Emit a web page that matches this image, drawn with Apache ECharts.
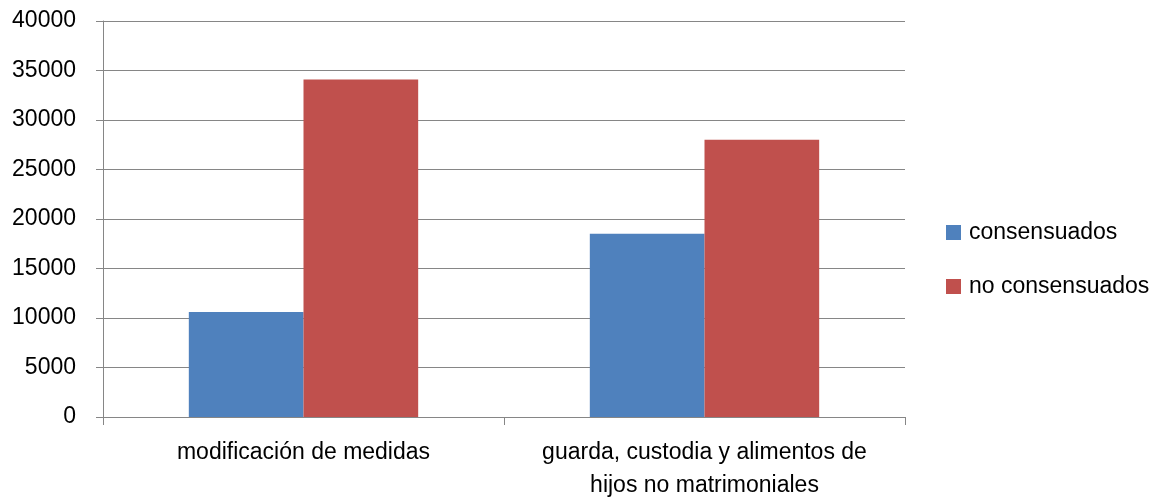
<!DOCTYPE html>
<html><head><meta charset="utf-8">
<script src="https://cdn.jsdelivr.net/npm/echarts@6/dist/echarts.min.js"></script>
<style>html,body{margin:0;padding:0;background:#fff}#c{width:1161px;height:498px}</style>
</head><body><div id="c"></div>
<script>
var categories = ['modificación de medidas', 'guarda, custodia y alimentos de\nhijos no matrimoniales'];
var consensuados = [10600, 18500];
var noConsensuados = [34100, 28000];
var seriesNames = ['consensuados', 'no consensuados'];

var FONT = '"Liberation Sans", Arial, sans-serif';
var chart = echarts.init(document.getElementById('c'), null, {renderer: 'canvas'});
chart.setOption({
  animation: false,
  backgroundColor: '#fff',
  textStyle: {fontFamily: FONT},
  grid: {left: 103, right: 256, top: 21, bottom: 81, containLabel: false, outerBoundsMode: 'none'},
  legend: {
    orient: 'vertical', left: 946, top: 221, padding: 0,
    itemWidth: 15, itemHeight: 15, itemGap: 31,
    icon: 'rect',
    textStyle: {fontFamily: FONT, fontSize: 23, lineHeight: 17, color: '#000', padding: [0,0,0,3]},
    data: seriesNames
  },
  xAxis: {
    type: 'category', data: categories,
    axisLine: {lineStyle: {color: '#868686', width: 1}},
    axisTick: {show: true, length: 8, lineStyle: {color: '#868686'}},
    axisLabel: {fontFamily: FONT, fontSize: 23, color: '#000', margin: 19, lineHeight: 33, interval: 0}
  },
  yAxis: {
    type: 'value', min: 0, max: 40000, interval: 5000,
    axisLine: {show: true, lineStyle: {color: '#868686', width: 1}},
    axisTick: {show: true, length: 7, lineStyle: {color: '#868686'}},
    splitLine: {lineStyle: {color: '#868686', width: 1}},
    axisLabel: {fontFamily: FONT, fontSize: 23, color: '#000', margin: 27, formatter: function (v) { return String(v); }}
  },
  series: [
    {name: seriesNames[0], type: 'bar', data: consensuados, barWidth: '28.6%', barGap: '0%',
     itemStyle: {color: '#4F81BD'}},
    {name: seriesNames[1], type: 'bar', data: noConsensuados, barWidth: '28.6%', barGap: '0%',
     itemStyle: {color: '#C0504D'}}
  ]
});
</script></body></html>
